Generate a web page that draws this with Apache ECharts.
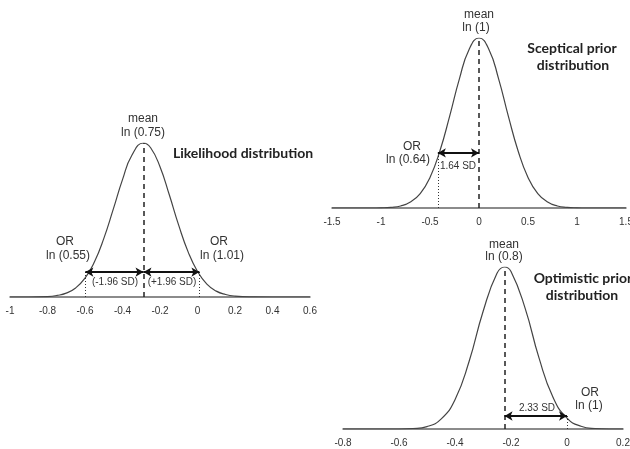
<!DOCTYPE html>
<html>
<head>
<meta charset="utf-8">
<script src="https://cdn.jsdelivr.net/npm/echarts@6/dist/echarts.min.js"></script>
<style>
  html, body { margin: 0; padding: 0; background: #fff; }
  #chart { width: 630px; height: 449px; }
</style>
</head>
<body>
<div id="chart"></div>
<script>
// likelihood distribution (peak = 1)
const likeX = [-1, -0.9, -0.8, -0.75, -0.7, -0.65, -0.6, -0.55, -0.5, -0.45, -0.4, -0.35, -0.288, -0.25, -0.2, -0.15, -0.1, -0.05, 0, 0.05, 0.1, 0.15, 0.2, 0.3, 0.4, 0.6]
const likeY = [0, 0, 0.003, 0.01, 0.025, 0.059, 0.122, 0.227, 0.379, 0.567, 0.762, 0.92, 1, 0.969, 0.846, 0.662, 0.465, 0.293, 0.166, 0.084, 0.038, 0.016, 0.006, 0.001, 0, 0]
const likeTicks = [-1, -0.8, -0.6, -0.4, -0.2, 0, 0.2, 0.4, 0.6]
const likeMean = -0.288
const likeLow = -0.598
const likeHigh = 0.01
const likeArrowY = 0.162

// sceptical prior
const scepX = [-1.5, -1.2, -1.1, -1, -0.9, -0.8, -0.7, -0.6, -0.5, -0.4, -0.3, -0.2, -0.1, 0, 0.1, 0.2, 0.3, 0.4, 0.5, 0.6, 0.7, 0.8, 0.9, 1, 1.1, 1.2, 1.5]
const scepY = [0, 0, 0, 0.001, 0.004, 0.012, 0.035, 0.085, 0.18, 0.334, 0.539, 0.76, 0.934, 1, 0.934, 0.76, 0.539, 0.334, 0.18, 0.085, 0.035, 0.012, 0.004, 0.001, 0, 0, 0]
const scepTicks = [-1.5, -1, -0.5, 0, 0.5, 1, 1.5]
const scepMean = 0
const scepLow = -0.42
const scepArrowY = 0.324

// optimistic prior
const optX = [-0.8, -0.7, -0.65, -0.6, -0.55, -0.5, -0.45, -0.4, -0.35, -0.3, -0.25, -0.223, -0.2, -0.15, -0.1, -0.05, 0, 0.05, 0.1, 0.15, 0.2]
const optY = [0, 0, 0, 0, 0.003, 0.015, 0.061, 0.181, 0.415, 0.724, 0.961, 1, 0.972, 0.748, 0.439, 0.196, 0.067, 0.017, 0.003, 0, 0]
const optTicks = [-0.8, -0.6, -0.4, -0.2, 0, 0.2]
const optMean = -0.223
const optHigh = 0
const optArrowY = 0.08

const chart = echarts.init(document.getElementById('chart'))

const zip = (xs, ys) => xs.map((x, i) => [x, ys[i]])

const mkXAxis = (idx, ticks) => ({
  type: 'value',
  gridIndex: idx,
  min: ticks[0],
  max: ticks[ticks.length - 1],
  axisLine: { show: true, onZero: false, lineStyle: { color: '#666', width: 1.5 } },
  axisTick: { show: false },
  splitLine: { show: false },
  axisLabel: {
    customValues: ticks,
    showMinLabel: true,
    showMaxLabel: true,
    hideOverlap: false,
    margin: 9,
    color: '#333',
    fontSize: 10,
    fontFamily: 'Liberation Sans, Arial, sans-serif'
  }
})

const mkYAxis = idx => ({ type: 'value', gridIndex: idx, min: 0, max: 1, show: false })

const arrowLine = (a, b, y) => [{ coord: [a, y] }, { coord: [b, y] }]
const vLine = (x, y, style) => [{ coord: [x, 0], lineStyle: style }, { coord: [x, y] }]

const dashed = { color: '#222', width: 1.5, type: [5, 4] }
const dotted = { color: '#333', width: 1, type: [1, 2] }

const mkSeries = (idx, data, arrows, vlines) => ({
  type: 'line',
  xAxisIndex: idx,
  yAxisIndex: idx,
  data,
  smooth: true,
  showSymbol: false,
  silent: true,
  lineStyle: { color: '#444', width: 1.2 },
  markLine: {
    silent: true,
    animation: false,
    label: { show: false },
    data: vlines.concat(arrows.map(r => {
      const l = arrowLine(r[0], r[1], r[2])
      l[0].symbol = 'arrow'
      l[1].symbol = 'arrow'
      l[0].lineStyle = { color: '#111', width: 2, type: 'solid' }
      return l
    })),
    symbol: ['none', 'none'],
    symbolSize: [7, 8]
  }
})

const txt = (text, x, y, size, bold) => ({
  type: 'text',
  x, y,
  style: {
    text,
    fill: bold ? '#222' : '#333',
    font: (bold ? 'bold ' : '') + size + 'px ' + (bold ? 'Lato, sans-serif' : '"Liberation Sans", Arial, sans-serif'),
    textAlign: 'center',
    textVerticalAlign: 'middle',
    align: 'center',
    verticalAlign: 'middle'
  }
})

const option = {
  backgroundColor: '#fff',
  animation: false,
  grid: [
    { left: 10, top: 143, width: 300, height: 154, outerBoundsMode: 'none' },
    { left: 332, top: 38, width: 294, height: 170, outerBoundsMode: 'none' },
    { left: 343, top: 267, width: 280, height: 162, outerBoundsMode: 'none' }
  ],
  xAxis: [mkXAxis(0, likeTicks), mkXAxis(1, scepTicks), mkXAxis(2, optTicks)],
  yAxis: [mkYAxis(0), mkYAxis(1), mkYAxis(2)],
  series: [
    mkSeries(0, zip(likeX, likeY),
      [[likeLow, likeMean, likeArrowY], [likeMean, likeHigh, likeArrowY]],
      [vLine(likeMean, 1, dashed), vLine(likeLow, likeArrowY, dotted), vLine(likeHigh, likeArrowY, dotted)]),
    mkSeries(1, zip(scepX, scepY),
      [[scepLow, scepMean, scepArrowY]],
      [vLine(scepMean, 1, dashed), vLine(scepLow, scepArrowY, dotted)]),
    mkSeries(2, zip(optX, optY),
      [[optMean, optHigh, optArrowY]],
      [vLine(optMean, 1, dashed), vLine(optHigh, optArrowY, dotted)])
  ],
  graphic: [
    txt('mean', 143, 119, 12), txt('ln (0.75)', 143, 133, 12),
    txt('Likelihood distribution', 243, 153, 14, true),
    txt('OR', 65, 242, 12), txt('ln (0.55)', 68, 256, 12),
    txt('OR', 219, 242, 12), txt('ln (1.01)', 222, 256, 12),
    txt('(-1.96 SD)', 115, 282, 10), txt('(+1.96 SD)', 172, 282, 10),

    txt('mean', 479, 15, 12), txt('ln (1)', 476, 28, 12),
    txt('Sceptical prior', 572, 48, 14, true), txt('distribution', 573, 65, 14, true),
    txt('OR', 412, 147, 12), txt('ln (0.64)', 408, 160, 12),
    txt('1.64 SD', 458, 166, 10),

    txt('mean', 504, 245, 12), txt('ln (0.8)', 504, 257, 12),
    txt('Optimistic prior', 583, 278, 14, true), txt('distribution', 582, 295, 14, true),
    txt('OR', 590, 393, 12), txt('ln (1)', 589, 406, 12),
    txt('2.33 SD', 537, 408, 10)
  ]
}

chart.setOption(option)
</script>
</body>
</html>
